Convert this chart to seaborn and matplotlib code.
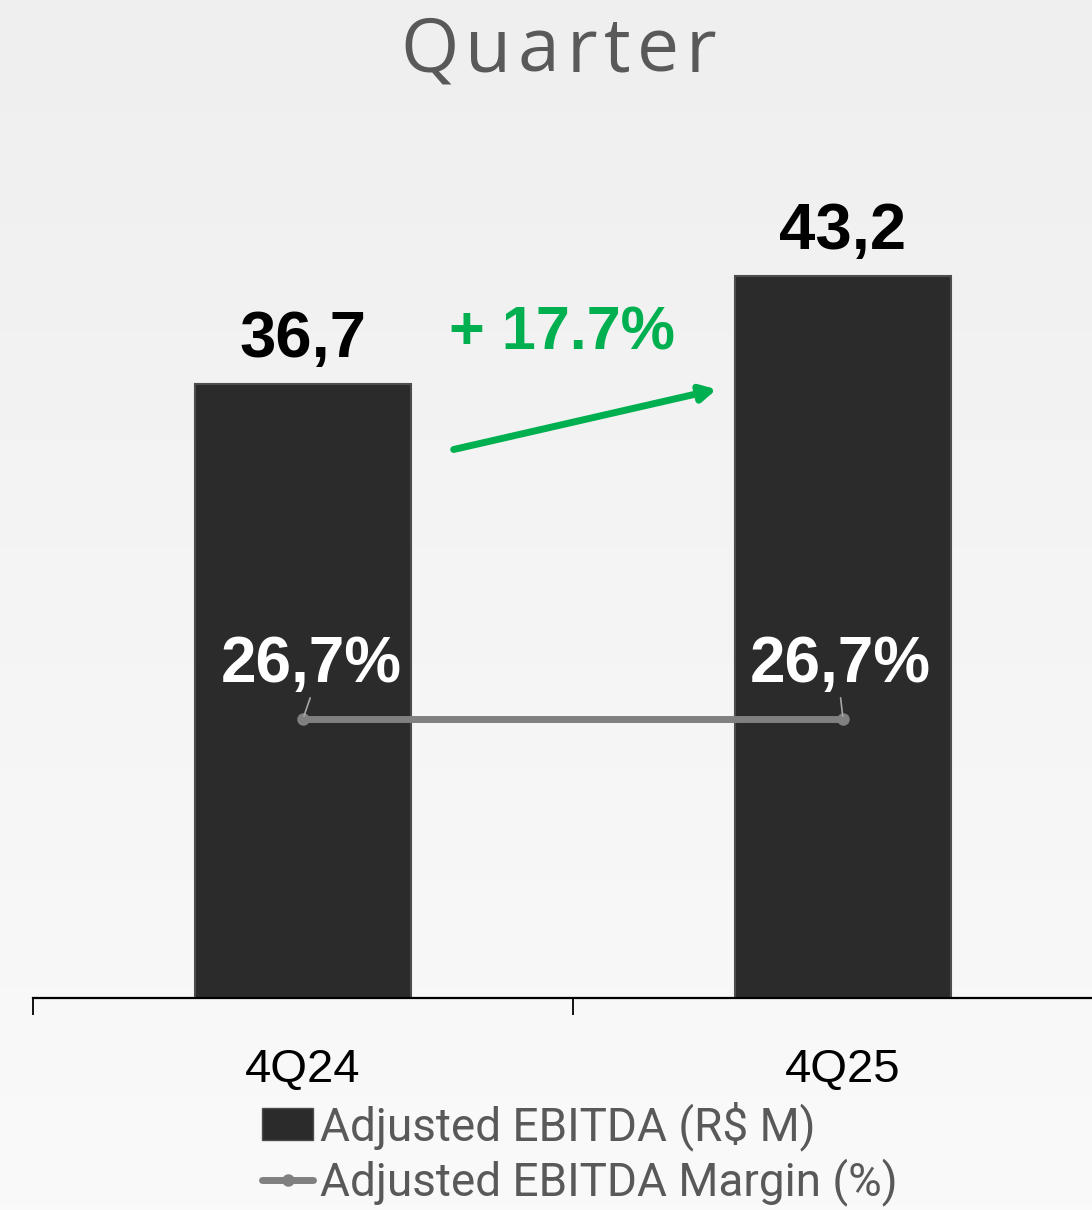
import numpy as np
import pandas as pd
import matplotlib
matplotlib.use('Agg')
import matplotlib.pyplot as plt
import seaborn as sns
from matplotlib.patches import Patch
from matplotlib.lines import Line2D

# chart data
quarters = ["4Q24", "4Q25"]
ebitda = [36.7, 43.2]
margin = [26.7, 26.7]
ebitda_labels = ["36,7", "43,2"]
margin_labels = ["26,7%", "26,7%"]
growth_label = "+ 17.7%"
title = "Quarter"
legend_labels = ["Adjusted EBITDA (R$ M)", "Adjusted EBITDA Margin (%)"]

sns.set_theme(style="white")
plt.rcParams['font.family'] = ['Liberation Sans', 'DejaVu Sans']

fig = plt.figure(figsize=(10.92, 12.10), dpi=100)

# soft vertical gradient background
bg = fig.add_axes([0, 0, 1, 1], zorder=-10)
grad = np.linspace(0, 1, 256).reshape(-1, 1)
bg.imshow(grad, aspect='auto', cmap=matplotlib.colors.LinearSegmentedColormap.from_list(
    'bg', ['#efefef', '#fafafa']), extent=[0, 1, 0, 1])
bg.axis('off')

ax = fig.add_axes([33 / 1092, (1210 - 998) / 1210, 1080 / 1092, 898 / 1210])
ax.patch.set_alpha(0)

df = pd.DataFrame({"quarter": quarters, "ebitda": ebitda, "margin": margin})
sns.barplot(data=df, x="quarter", y="ebitda", color="#2b2b2b", width=0.4,
            edgecolor="#4d4d4d", linewidth=1.5, saturation=1, ax=ax, zorder=2)
ax.set_ylim(0, 53.7)
ax.set_xlim(-0.5, 1.5)

for spine in ["top", "right", "left"]:
    ax.spines[spine].set_visible(False)
ax.spines["bottom"].set_color("#000000")
ax.spines["bottom"].set_linewidth(1.6)
ax.spines["bottom"].set_zorder(3)
ax.set_yticks([])
ax.set_xticks([-0.5, 0.5, 1.5])
ax.set_xticklabels([])
ax.tick_params(axis='x', which='major', bottom=True, direction='out', length=12,
               width=1.3, color='black')
ax.set_xticks([0, 1], minor=True)
ax.set_xticklabels(quarters, minor=True, fontsize=34, color='black')
ax.tick_params(axis='x', which='minor', bottom=True, length=0, pad=36)
ax.set_xlabel("")
ax.set_ylabel("")

# bar value labels
for i, (v, lab) in enumerate(zip(ebitda, ebitda_labels)):
    ax.annotate(lab, (i, v), xytext=(0, 10), textcoords='offset points',
                ha='center', va='bottom', fontsize=47, fontweight='bold', color='black')

# margin line on secondary axis
ax2 = ax.twinx()
ax2.set_ylim(0, 85.9)
ax2.axis('off')
sns.lineplot(x=[0, 1], y=margin, ax=ax2, color='#808080', linewidth=5,
             marker='o', markersize=9, markeredgewidth=0, zorder=3)
label_dx = [6, -2]
for i, (v, lab) in enumerate(zip(margin, margin_labels)):
    ax2.annotate(lab, (i, v), xytext=(label_dx[i], 17.5), textcoords='offset points',
                 ha='center', va='bottom', fontsize=46, fontweight='bold', color='white',
                 arrowprops=dict(arrowstyle='-', color='#a6a6a6', lw=1.2, shrinkA=0, shrinkB=2,
                                 relpos=(0.5, 0)))

# growth arrow between bars
ax.annotate("", xy=(0.766, 36.4), xytext=(0.279, 32.8),
            arrowprops=dict(arrowstyle='-|>,head_length=0.75,head_width=0.4', color='#00b050',
                            lw=5, shrinkA=0, shrinkB=0))
ax.text(0.479, 39.7, growth_label, ha='center', va='center', fontsize=44,
        fontweight='bold', color='#00b050')

# letter-spaced title
title_font = dict(fontsize=54, color='#595959', family=['Open Sans', 'DejaVu Sans'])
fig.canvas.draw()
renderer = fig.canvas.get_renderer()
widths = []
for ch in title:
    t = fig.text(0, 0, ch, **title_font)
    widths.append(t.get_window_extent(renderer).width)
    t.remove()
left_px, right_px = 400, 716
gap = (right_px - left_px - sum(widths)) / (len(title) - 1)
x = left_px
for ch, w in zip(title, widths):
    fig.text(x / 1092, 1 - 72 / 1210, ch, ha='left', va='baseline', **title_font)
    x += w + gap

handles = [Patch(facecolor='#2b2b2b', edgecolor='#4d4d4d'),
           Line2D([0], [0], color='#808080', lw=5, marker='o', markersize=9, markeredgewidth=0)]
fig.legend(handles, legend_labels, loc='upper left', bbox_to_anchor=(262 / 1092, 1 - 1101 / 1210),
           frameon=False, labelcolor='#595959', handlelength=1.12, handletextpad=0.15,
           labelspacing=0.17, borderaxespad=0, borderpad=0,
           prop={'family': ['Roboto', 'DejaVu Sans'], 'size': 33})

fig.savefig("out.png", dpi=100)
